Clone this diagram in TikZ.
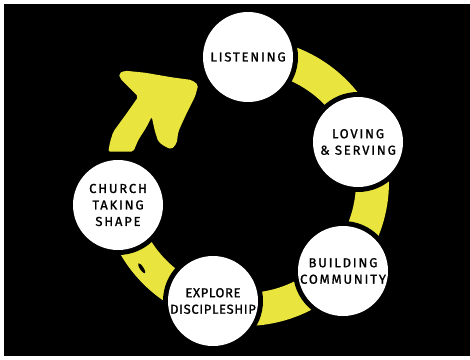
\documentclass[tikz,border=0pt]{standalone}
\usepackage{fontspec}
\newfontfamily\hand[LetterSpace=14,FakeBold=1.2]{Fira Sans}
\newfontfamily\handtight[LetterSpace=5,FakeBold=1.2]{Fira Sans}
\usetikzlibrary{shapes.geometric}
\definecolor{yel}{RGB}{233,229,62}
\tikzset{
  stage/.style={circle, fill=white, minimum size=90pt, inner sep=0pt, align=center,
    font=\hand\fontsize{13}{16.5}\selectfont, text=black},
  tightstage/.style={stage, font=\handtight\fontsize{13}{16.5}\selectfont},
  halo/.style={fill=black},
  band/.style={fill=yel}
}
\begin{document}
\begin{tikzpicture}[x=1pt,y=-1pt]
\useasboundingbox (0,0) rectangle (470,359);
\fill[white] (0,0) rectangle (470,359);
\fill[black] (4,4) rectangle (470,356);
% ring centre
\coordinate (C) at (245,182);
% yellow ring segment (clockwise from Listening to Church)
\fill[band] plot[domain=-89:170, samples=120] ({245+144*cos(\x)},{182+144*sin(\x)})
  -- plot[domain=170:-89, samples=120] ({245+111*cos(\x)},{182+111*sin(\x)}) -- cycle;
% small black mark in last band
\node[ellipse, fill=black, minimum width=12pt, minimum height=3.5pt, inner sep=0pt, rotate=-56] (mark) at (141.7,268.3) {};
% hand-drawn arrow from Church up to Listening
\fill[band, rounded corners=2pt] (108.3,151.7) -- (110,142) -- (113.3,131.7) -- (126.7,113.3) -- (138.3,96.7)
  -- (120,78.3) -- (119,73.3) -- (125,70.7) -- (145,72.7) -- (171.7,77.3) -- (191.7,80) -- (198.3,85)
  -- (195,96.7) -- (185,116.7) -- (178.3,131.7) -- (176.7,143.3) -- (171.7,149.3) -- (165,146.7)
  -- (158.3,141.7) -- (155,131.7) -- (151.7,116.7) -- (146.7,126.7) -- (138.3,140) -- (133.3,151.7) -- cycle;
% stage positions
\coordinate (pL) at (248,57);
\coordinate (pV) at (358,142);
\coordinate (pB) at (343,271);
\coordinate (pE) at (213,301);
\coordinate (pC) at (118,205);
\foreach \p in {pL,pV,pB,pE,pC} \fill[halo] (\p) circle[radius=50pt];
\node[stage] (listening) at (pL) {LISTENING};
\node[stage] (loving) at (pV) {LOVING\\\& SERVING};
\node[stage] (building) at (pB) {BUILDING\\COMMUNITY};
\node[tightstage] (explore) at (pE) {EXPLORE\\DISCIPLESHIP};
\node[stage] (church) at (pC) {CHURCH\\TAKING\\SHAPE};
\end{tikzpicture}
\end{document}
